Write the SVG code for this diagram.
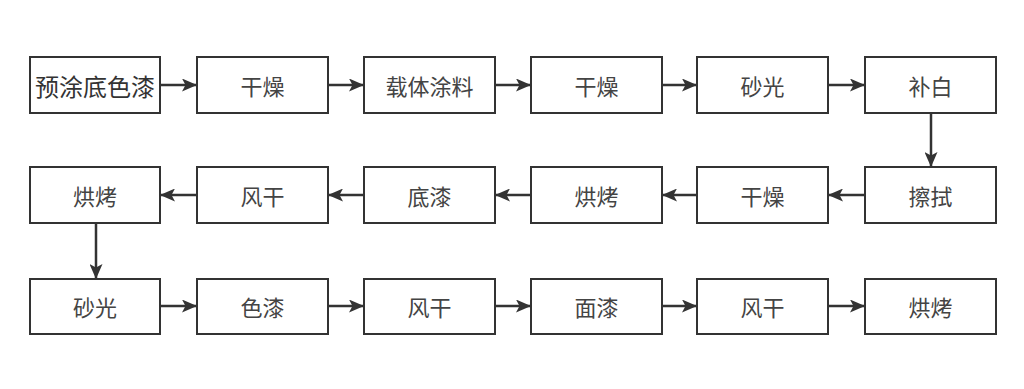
<svg xmlns="http://www.w3.org/2000/svg" width="1024" height="389" viewBox="0 0 1024 389">
<style>
.box{fill:#fff;stroke:#333;stroke-width:2}
.t{font-family:"Noto Sans CJK SC","Noto Sans CJK JP",sans-serif;font-size:22px;fill:#444;text-anchor:middle;dominant-baseline:central}
.t1{font-size:24px;fill:#333}
.c{stroke:#333;stroke-width:2.5;fill:none;marker-end:url(#ah)}
</style>
<defs>
<marker id="ah" markerWidth="15" markerHeight="13" refX="14" refY="6.5" orient="auto" markerUnits="userSpaceOnUse">
<path d="M0,0 L15,6.5 L0,13 L3.5,6.5 Z" fill="#333"/>
</marker>
</defs>
<rect width="1024" height="389" fill="#fff"/>
<g id="connectors">
<line class="c" x1="160" y1="85" x2="196" y2="85"/>
<line class="c" x1="328" y1="85" x2="363" y2="85"/>
<line class="c" x1="495" y1="85" x2="530" y2="85"/>
<line class="c" x1="662" y1="85" x2="696" y2="85"/>
<line class="c" x1="828" y1="85" x2="864" y2="85"/>
<line class="c" x1="931" y1="113" x2="931" y2="166"/>
<line class="c" x1="865" y1="195" x2="829" y2="195"/>
<line class="c" x1="697" y1="195" x2="663" y2="195"/>
<line class="c" x1="531" y1="195" x2="496" y2="195"/>
<line class="c" x1="364" y1="195" x2="329" y2="195"/>
<line class="c" x1="197" y1="195" x2="161" y2="195"/>
<line class="c" x1="96" y1="223" x2="96" y2="278"/>
<line class="c" x1="160" y1="306" x2="196" y2="306"/>
<line class="c" x1="328" y1="306" x2="363" y2="306"/>
<line class="c" x1="495" y1="306" x2="530" y2="306"/>
<line class="c" x1="662" y1="306" x2="696" y2="306"/>
<line class="c" x1="828" y1="306" x2="864" y2="306"/>
</g>
<g id="n1"><rect class="box" x="30" y="57" width="130" height="56"/><text class="t t1" x="95" y="85">预涂底色漆</text></g>
<g id="n2"><rect class="box" x="197" y="57" width="131" height="56"/><text class="t" x="262.5" y="85">干燥</text></g>
<g id="n3"><rect class="box" x="364" y="57" width="131" height="56"/><text class="t" x="429.5" y="85">载体涂料</text></g>
<g id="n4"><rect class="box" x="531" y="57" width="131" height="56"/><text class="t" x="596.5" y="85">干燥</text></g>
<g id="n5"><rect class="box" x="697" y="57" width="131" height="56"/><text class="t" x="762.5" y="85">砂光</text></g>
<g id="n6"><rect class="box" x="865" y="57" width="131" height="56"/><text class="t" x="930.5" y="85">补白</text></g>
<g id="n7"><rect class="box" x="865" y="167" width="131" height="56"/><text class="t" x="930.5" y="195">擦拭</text></g>
<g id="n8"><rect class="box" x="697" y="167" width="131" height="56"/><text class="t" x="762.5" y="195">干燥</text></g>
<g id="n9"><rect class="box" x="531" y="167" width="131" height="56"/><text class="t" x="596.5" y="195">烘烤</text></g>
<g id="n10"><rect class="box" x="364" y="167" width="131" height="56"/><text class="t" x="429.5" y="195">底漆</text></g>
<g id="n11"><rect class="box" x="197" y="167" width="131" height="56"/><text class="t" x="262.5" y="195">风干</text></g>
<g id="n12"><rect class="box" x="30" y="167" width="130" height="56"/><text class="t" x="95" y="195">烘烤</text></g>
<g id="n13"><rect class="box" x="30" y="279" width="130" height="55"/><text class="t" x="95" y="306">砂光</text></g>
<g id="n14"><rect class="box" x="197" y="279" width="131" height="55"/><text class="t" x="262.5" y="306">色漆</text></g>
<g id="n15"><rect class="box" x="364" y="279" width="131" height="55"/><text class="t" x="429.5" y="306">风干</text></g>
<g id="n16"><rect class="box" x="531" y="279" width="131" height="55"/><text class="t" x="596.5" y="306">面漆</text></g>
<g id="n17"><rect class="box" x="697" y="279" width="131" height="55"/><text class="t" x="762.5" y="306">风干</text></g>
<g id="n18"><rect class="box" x="865" y="279" width="131" height="55"/><text class="t" x="930.5" y="306">烘烤</text></g>
</svg>
